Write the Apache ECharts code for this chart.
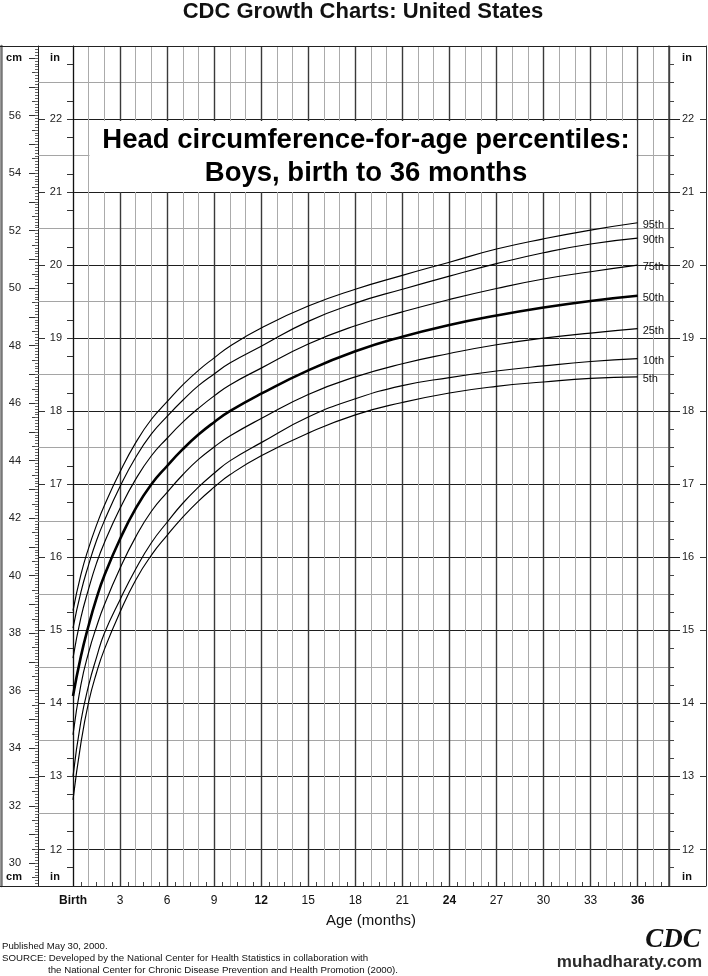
<!DOCTYPE html>
<html><head><meta charset="utf-8">
<script src="https://cdn.jsdelivr.net/npm/echarts@6/dist/echarts.min.js"></script>
<style>html,body{margin:0;padding:0;background:#fff}#c{width:708px;height:976px}</style>
</head><body><div id="c"></div>
<script>
// Age in months
const months = [0,0.5,1,1.5,2,3,4,5,6,7,8,9,10,12,15,18,21,24,27,30,33,36];
// Head circumference percentiles, in inches
const p95 = [15.27,15.76,16.13,16.44,16.71,17.17,17.57,17.89,18.13,18.36,18.56,18.73,18.89,19.14,19.44,19.67,19.86,20.04,20.22,20.36,20.48,20.58];
const p90 = [15.03,15.52,15.90,16.23,16.50,16.97,17.37,17.69,17.93,18.15,18.35,18.51,18.66,18.89,19.23,19.48,19.67,19.85,20.02,20.17,20.29,20.37];
const p75 = [14.62,15.17,15.57,15.92,16.20,16.67,17.07,17.39,17.63,17.85,18.04,18.21,18.36,18.59,18.92,19.17,19.36,19.53,19.68,19.81,19.91,20.00];
const p50 = [14.10,14.64,15.07,15.44,15.75,16.25,16.67,17.00,17.25,17.48,17.68,17.85,18.00,18.24,18.56,18.82,19.02,19.18,19.31,19.42,19.51,19.58];
const p25 = [13.57,14.25,14.70,15.05,15.35,15.85,16.28,16.63,16.89,17.13,17.34,17.51,17.66,17.90,18.23,18.47,18.65,18.79,18.91,19.00,19.07,19.13];
const p10 = [13.00,13.75,14.25,14.63,14.96,15.42,15.84,16.20,16.48,16.74,16.96,17.15,17.32,17.57,17.92,18.17,18.35,18.46,18.55,18.62,18.68,18.72];
const p5  = [12.68,13.45,14.02,14.42,14.74,15.25,15.69,16.03,16.30,16.55,16.77,16.96,17.13,17.39,17.70,17.95,18.12,18.25,18.34,18.40,18.45,18.47];
const percentileNames = ['95th','90th','75th','50th','25th','10th','5th'];
// Tick labels
const monthLabels = [0,3,6,9,12,15,18,21,24,27,30,33,36];
const boldMonths = [0,12,24,36];
const inchLabels = [12,13,14,15,16,17,18,19,20,21,22];
const cmLabels = [30,32,34,36,38,40,42,44,46,48,50,52,54,56];

const IN_MIN = 11.5, IN_MAX = 23;
const CM_MIN = IN_MIN * 2.54, CM_MAX = IN_MAX * 2.54;
function steps(a, b, s) { const r = []; for (let i = 0; a + i * s <= b + 1e-9; i++) r.push(+(a + i * s).toFixed(3)); return r; }
const quarterIn = steps(11.75, 22.75, 0.25);
const halfIn = steps(12.5, 22.5, 1);
const cmMajor = steps(30, 58, 1);
const cmHalf = steps(29.5, 58, 1);
const cmMinor = steps(29.3, 58.4, 0.1);

const FONT = 'Liberation Sans';
const chart = echarts.init(document.getElementById('c'), null, {renderer: 'canvas'});
const allVals = [p95, p90, p75, p50, p25, p10, p5];

function yIn(extra) {
  return Object.assign({
    type: 'value', min: IN_MIN, max: IN_MAX, position: 'left', offset: 0,
    axisLine: {show: false, onZero: false}, axisTick: {show: false}, axisLabel: {show: false}, splitLine: {show: false}
  }, extra);
}
function yCm(extra) {
  return Object.assign({
    type: 'value', min: CM_MIN, max: CM_MAX, position: 'left', offset: 35,
    axisLine: {show: false, onZero: false}, axisTick: {show: false}, axisLabel: {show: false}, splitLine: {show: false}
  }, extra);
}

const option = {
  animation: false,
  textStyle: {fontFamily: FONT},
  grid: {left: 73, right: 39, top: 46, bottom: 90, containLabel: false},
  xAxis: [
    {type: 'value', min: 0, max: 38, interval: 1, position: 'bottom',
     axisLine: {show: false, onZero: false}, axisTick: {show: false, inside: true},
     axisLabel: {show: false},
     minorTick: {show: true, splitNumber: 2, length: 4, lineStyle: {color: '#444'}},
     splitLine: {show: true, lineStyle: {color: '#ababab', width: 1}}},
    {type: 'value', min: 0, max: 38, interval: 3, position: 'bottom',
     axisLine: {show: false, onZero: false}, axisTick: {show: false},
     splitLine: {show: true, lineStyle: {color: '#3a3a3a', width: 1.4}},
     axisLabel: {show: true, margin: 9, fontSize: 12, color: '#111',
       formatter: v => {
         if (monthLabels.indexOf(v) < 0) return '';
         const t = v === 0 ? 'Birth' : String(v);
         return boldMonths.indexOf(v) >= 0 ? '{b|' + t + '}' : t;
       },
       rich: {b: {fontWeight: 'bold', fontSize: 12, color: '#111'}}},
     name: 'Age (months)', nameLocation: 'middle', nameGap: 27,
     nameTextStyle: {fontSize: 15, color: '#111'}}
  ],
  yAxis: [
    yIn({interval: 0.5, axisLine: {show: true, onZero: false, lineStyle: {color: '#111', width: 1}},
         splitLine: {show: true, lineStyle: {color: ['#a5a5a5', '#1e1e1e'], width: 1}}}),
    yIn({axisTick: {show: true, customValues: quarterIn, length: 6, lineStyle: {color: '#333'}},
         axisLabel: {show: true, customValues: inchLabels, margin: 11, fontSize: 11, color: '#222'}}),
    yIn({offset: 35, axisLine: {show: true, onZero: false, lineStyle: {color: '#222', width: 1}},
         axisTick: {show: true, inside: true, customValues: inchLabels, length: 7, lineStyle: {color: '#333'}}}),
    yIn({offset: 35, axisTick: {show: true, inside: true, customValues: halfIn, length: 35, lineStyle: {color: '#a5a5a5'}}}),
    yCm({axisTick: {show: true, customValues: cmMajor, length: 9, lineStyle: {color: '#333'}},
         axisLabel: {show: true, customValues: cmLabels, margin: 17, fontSize: 11, color: '#222'}}),
    yCm({axisTick: {show: true, customValues: cmHalf, length: 6, lineStyle: {color: '#444'}}}),
    yCm({axisTick: {show: true, customValues: cmMinor, length: 3, lineStyle: {color: '#666'}}}),
    yIn({position: 'right', axisLine: {show: true, onZero: false, lineStyle: {color: '#444', width: 1.5}},
         axisTick: {show: true, customValues: quarterIn, length: 5, lineStyle: {color: '#444'}}}),
    yIn({position: 'right', axisTick: {show: true, customValues: inchLabels, length: 11, lineStyle: {color: '#222'}},
         axisLabel: {show: true, customValues: inchLabels, margin: 13, fontSize: 11, color: '#222'}}),
    yIn({position: 'right', offset: 37, axisLine: {show: true, onZero: false, lineStyle: {color: '#333', width: 1}},
         axisTick: {show: true, inside: true, customValues: inchLabels, length: 6, lineStyle: {color: '#333'}}}),
    yIn({offset: 72, axisLine: {show: true, onZero: false, lineStyle: {color: '#777', width: 2.5}}})
  ],
  series: percentileNames.map((name, k) => ({
    type: 'line', name: name, xAxisIndex: 0, yAxisIndex: 0,
    data: months.map((m, i) => [m, allVals[k][i]]),
    smooth: 0.5, showSymbol: false, symbol: 'none', silent: true,
    emphasis: {disabled: true},
    lineStyle: {color: '#000', width: name === '50th' ? 2.6 : 1.15},
    endLabel: {show: true, formatter: name, distance: 5, fontSize: 11, color: '#111', offset: [0, 2]},
    z: 5
  })),
  graphic: [
    {type: 'line', z: 50, shape: {x1: 0, y1: 46.5, x2: 706, y2: 46.5}, style: {stroke: '#222', lineWidth: 1}},
    {type: 'line', z: 50, shape: {x1: 0, y1: 886.5, x2: 706, y2: 886.5}, style: {stroke: '#222', lineWidth: 1}},
    {type: 'text', z: 100, style: {text: 'CDC Growth Charts: United States', x: 363, y: 12, align: 'center', verticalAlign: 'middle', font: 'bold 22px "Liberation Sans"', fill: '#111'}},
    {type: 'rect', z: 100, shape: {x: 89.5, y: 121, width: 547, height: 71}, style: {fill: '#fff'}},
    {type: 'text', z: 101, style: {text: 'Head circumference-for-age percentiles:', x: 366, y: 140, align: 'center', verticalAlign: 'middle', font: 'bold 27.5px "Liberation Sans"', fill: '#000'}},
    {type: 'text', z: 101, style: {text: 'Boys, birth to 36 months', x: 366, y: 173, align: 'center', verticalAlign: 'middle', font: 'bold 27.5px "Liberation Sans"', fill: '#000'}},
    {type: 'text', z: 100, style: {text: 'cm', x: 14, y: 58, align: 'center', verticalAlign: 'middle', font: 'bold 11px "Liberation Sans"', fill: '#111'}},
    {type: 'text', z: 100, style: {text: 'in', x: 55, y: 58, align: 'center', verticalAlign: 'middle', font: 'bold 11px "Liberation Sans"', fill: '#111'}},
    {type: 'text', z: 100, style: {text: 'in', x: 687, y: 58, align: 'center', verticalAlign: 'middle', font: 'bold 11px "Liberation Sans"', fill: '#111'}},
    {type: 'text', z: 100, style: {text: 'cm', x: 14, y: 877, align: 'center', verticalAlign: 'middle', font: 'bold 11px "Liberation Sans"', fill: '#111'}},
    {type: 'text', z: 100, style: {text: 'in', x: 55, y: 877, align: 'center', verticalAlign: 'middle', font: 'bold 11px "Liberation Sans"', fill: '#111'}},
    {type: 'text', z: 100, style: {text: 'in', x: 687, y: 877, align: 'center', verticalAlign: 'middle', font: 'bold 11px "Liberation Sans"', fill: '#111'}},
    {type: 'text', z: 100, style: {text: 'Published May 30, 2000.', x: 2, y: 946, align: 'left', verticalAlign: 'middle', font: '9.6px "Liberation Sans"', fill: '#111'}},
    {type: 'text', z: 100, style: {text: 'SOURCE: Developed by the National Center for Health Statistics in collaboration with', x: 2, y: 958, align: 'left', verticalAlign: 'middle', font: '9.7px "Liberation Sans"', fill: '#111'}},
    {type: 'text', z: 100, style: {text: 'the National Center for Chronic Disease Prevention and Health Promotion (2000).', x: 48, y: 970, align: 'left', verticalAlign: 'middle', font: '9.7px "Liberation Sans"', fill: '#111'}},
    {type: 'text', z: 100, style: {text: 'CDC', x: 673, y: 940, align: 'center', verticalAlign: 'middle', font: 'italic bold 27px "Liberation Serif"', fill: '#111'}},
    {type: 'text', z: 100, style: {text: 'muhadharaty.com', x: 702, y: 962, align: 'right', verticalAlign: 'middle', font: 'bold 17px "Liberation Sans"', fill: '#2a2a2a'}}
  ]
};
chart.setOption(option);
</script>
</body></html>
